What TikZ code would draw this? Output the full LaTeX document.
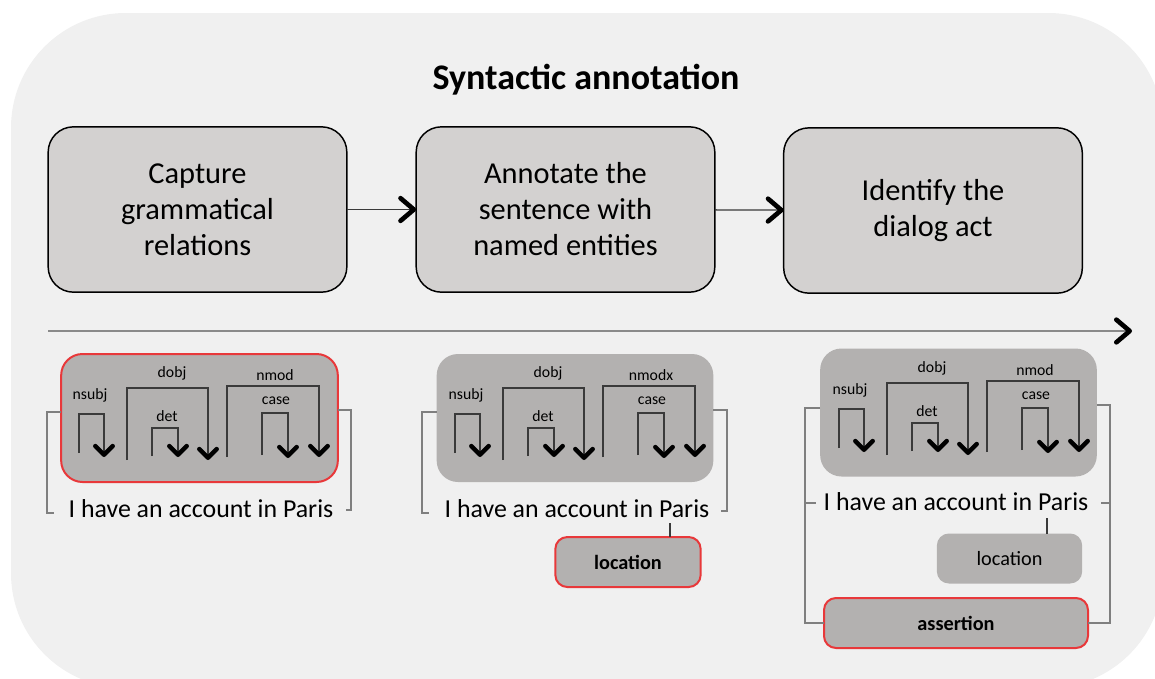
\documentclass[tikz,border=0pt]{standalone}
\usepackage{fontspec}
\setmainfont{Carlito}
\usetikzlibrary{arrows.meta}
\definecolor{bgc}{HTML}{F0F0F0}
\definecolor{boxc}{HTML}{D3D1D0}
\definecolor{panc}{HTML}{B3B1B0}
\definecolor{redc}{HTML}{E8383A}
\definecolor{brc}{HTML}{7F7F7F}
\definecolor{arcc}{HTML}{3A3A3A}
\definecolor{linec}{HTML}{8A8A8A}
\tikzset{
 stepbox/.style={draw=black, line width=1.1pt, fill=boxc, rounded corners=19pt, minimum width=224pt, minimum height=124pt, inner sep=0pt, outer sep=0pt, align=center, font=\fontsize{22.8}{27}\selectfont},
 panel/.style={fill=panc, rounded corners=16pt, minimum width=207.5pt, minimum height=96pt, inner sep=0pt, outer sep=0pt},
 redline/.style={draw=redc, line width=1.5pt},
 tag/.style={fill=panc, rounded corners=9pt, minimum width=109pt, minimum height=37.5pt, inner sep=0pt, outer sep=0pt, font=\fontsize{15.2}{18}\selectfont},
 sent/.style={font=\fontsize{19.4}{23}\selectfont, anchor=base, inner sep=0pt},
 deplab/.style={font=\fontsize{11.8}{13}\selectfont, inner sep=0pt},
 dep/.style={draw=arcc, line width=1pt, -{Straight Barb[length=6.5pt,width=13pt,line width=3.4pt,round,color=black]}},
 dleg/.style={draw=arcc, line width=1pt},
 brk/.style={draw=brc, line width=1.1pt},
 flow/.style={draw=arcc, line width=1pt, -{Straight Barb[length=10pt,width=17pt,line width=3.5pt,round,color=black]}},
 timeline/.style={draw=linec, line width=1.5pt, -{Straight Barb[length=10pt,width=17pt,line width=3.5pt,round,color=black]}},
}
\newcommand{\depdiagram}[4]{%
 \begin{scope}[shift={(#1,#2)}]
  \node[deplab] (nsubj#4) at (90,395) {nsubj};
  \node[deplab] (dobj#4) at (172,373) {dobj};
  \node[deplab] (det#4) at (167,416) {det};
  \node[deplab] (nmod#4) at (275,375) {#3};
  \node[deplab] (case#4) at (276,401) {case};
  \draw[dep] (79,453) |- (104,414) -- (104,457);
  \draw[dep] (127,460) |- (208,388) -- (208,460);
  \draw[dep] (152,456) |- (178,428) -- (178,457);
  \draw[dep] (227,457) |- (319,386) -- (319,457);
  \draw[dep] (262,455) |- (288,413) -- (288,458);
 \end{scope}}
\begin{document}
\begin{tikzpicture}[x=0.75pt,y=-0.75pt]
\useasboundingbox (0,0) rectangle (1155,678);
\begin{scope}
 \clip (0,0) rectangle (1155,678);
 \fill[bgc, rounded corners=86pt] (11,13) rectangle (1163,688);
\end{scope}

\node[font=\bfseries\fontsize{27}{31}\selectfont] (title) at (586,80) {Syntactic annotation};

\node[stepbox] (s1) at (197.5,209.5) {Capture\\grammatical\\relations};
\node[stepbox] (s2) at (565.5,209.5) {Annotate the\\sentence with\\named entities};
\node[stepbox] (s3) at (933,210.5) {Identify the\\dialog act};
\draw[flow] (s1) -- (s2);
\draw[flow] (s2) -- (s3);

\coordinate (t0) at (48,331);
\coordinate (t1) at (1132,331);
\draw[timeline] (t0) -- (t1);

% panel 1
\node[panel, redline] (pan1) at (199.5,418) {};
\depdiagram{0}{0}{nmod}{a}
\node[sent] (sen1) at (201,517) {I have an account in Paris};
\draw[brk] ([yshift=4.5pt]pan1.west) -| (47,513) -- (54,513);
\draw[brk] ([yshift=6pt]pan1.east) -| (351,510) -- (346,510);

% panel 2
\node[panel] (pan2) at (575,418) {};
\depdiagram{376}{0}{nmodx}{b}
\node[sent] (sen2) at (577,517) {I have an account in Paris};
\draw[brk] ([yshift=4.5pt]pan2.west) -| (422,513) -- (429,513);
\draw[brk] ([yshift=6pt]pan2.east) -| (727,511) -- (721,511);
\node[tag, redline, font=\bfseries\fontsize{15.2}{18}\selectfont] (loc2) at (628,562) {location};
\coordinate (p2) at (670,523);
\draw[dleg] (p2) -- (p2 |- loc2.north);

% panel 3
\node[panel] (pan3) at (958.5,412.5) {};
\depdiagram{760}{-5}{nmod}{c}
\node[sent] (sen3) at (956,510) {I have an account in Paris};
\node[tag] (loc3) at (1009.5,558.5) {location};
\coordinate (p3) at (1047,518);
\draw[dleg] (p3) -- (p3 |- loc3.north);
\node[tag, redline, minimum width=198pt, font=\bfseries\fontsize{15.2}{18}\selectfont] (asr) at (956,623) {assertion};
\draw[brk] ([yshift=3.4pt]pan3.west) -| (asr.west -| 805,0) -- (asr.west);
\draw[brk] ([yshift=5.6pt]pan3.east) -| (asr.east -| 1110,0) -- (asr.east);
\draw[brk] (805,503) -- (816,503);
\draw[brk] (1110,503) -- (1101,503);
\end{tikzpicture}
\end{document}
